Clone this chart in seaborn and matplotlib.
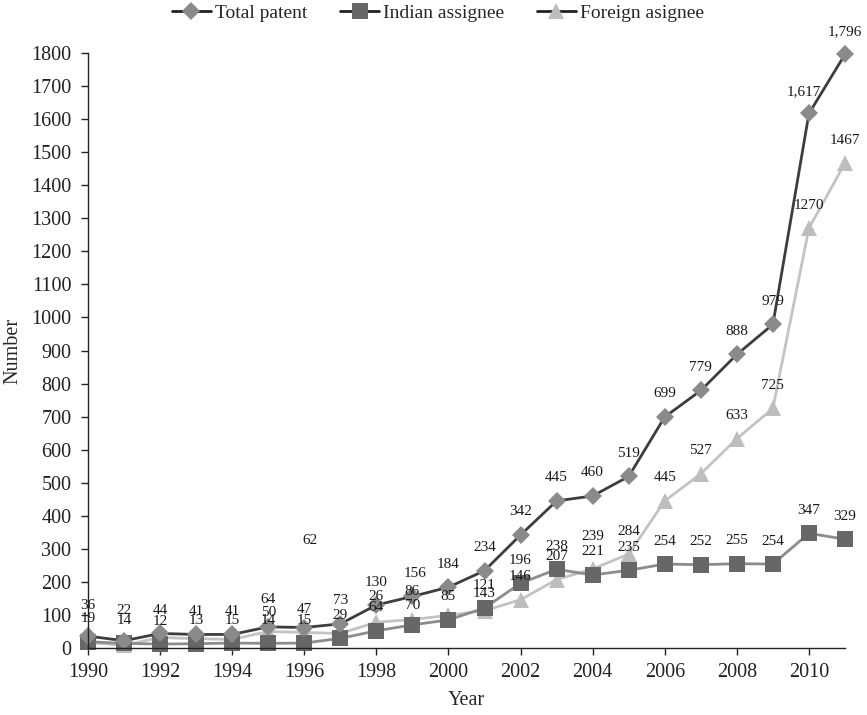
import matplotlib
matplotlib.use('Agg')
import matplotlib.pyplot as plt
from matplotlib.lines import Line2D
import pandas as pd
import seaborn as sns

years = list(range(1990, 2012))
total_patent = [36, 22, 44, 41, 41, 64, 62, 73, 130, 156, 184, 234, 342, 445, 460,
                519, 699, 779, 888, 979, 1617, 1796]
indian_assignee = [19, 14, 12, 13, 15, 14, 15, 29, 52, 70, 85, 121, 196, 238, 221,
                   235, 254, 252, 255, 254, 347, 329]
foreign_assignee = [17, 8, 32, 28, 26, 50, 47, 44, 78, 86, 99, 113, 146, 207, 239,
                    284, 445, 527, 633, 725, 1270, 1467]

# data labels as printed in the chart (some are missing / odd in the original)
total_labels = ['36', '22', '44', '41', '41', '64', '62', '73', '130', '156', '184',
                '234', '342', '445', '460', '519', '699', '779', '888', '979',
                '1,617', '1,796']
indian_labels = ['19', '14', '12', '13', '15', '14', '15', '29', '64', '70', '85',
                 '121', '196', '238', '221', '235', '254', '252', '255', '254',
                 '347', '329']
foreign_labels = ['', '', '', '', '', '50', '47', '', '26', '86', '', '143', '146',
                  '207', '239', '284', '445', '527', '633', '725', '1270', '1467']

df = pd.DataFrame({'Year': years, 'Total': total_patent,
                   'Indian': indian_assignee, 'Foreign': foreign_assignee})

sns.set_theme(style='ticks')
plt.rcParams['font.family'] = ['Liberation Serif', 'DejaVu Serif']
plt.rcParams['axes.edgecolor'] = '#222222'
plt.rcParams['axes.linewidth'] = 1.0

fig = plt.figure(figsize=(8.67, 7.15), dpi=100)
ax = fig.add_axes([88 / 867, 67 / 715, 757 / 867, 595 / 715])

sns.lineplot(data=df, x='Year', y='Foreign', ax=ax, color='#c3c3c3', linewidth=2,
             marker='^', markersize=12, markerfacecolor='#bdbdbd',
             markeredgewidth=0, clip_on=False)
sns.lineplot(data=df, x='Year', y='Indian', ax=ax, color='#8c8c8c', linewidth=2,
             marker='s', markersize=12, markerfacecolor='#676767',
             markeredgewidth=0, clip_on=False)
sns.lineplot(data=df, x='Year', y='Total', ax=ax, color='#3d3d3d', linewidth=2,
             marker='D', markersize=9, markerfacecolor='#8a8a8a',
             markeredgewidth=0, clip_on=False)

# label offsets in pixels (default straight up)
total_off = {1990: (0, 31), 1991: (0, 30), 1995: (0, 27), 1996: (6, 87),
             1999: (3, 23), 2010: (-5, 22)}
indian_off = {1999: (0, 19)}
foreign_off = {1995: (0, 19), 1998: (0, 26), 1999: (0, 28), 2001: (0, 17),
               2004: (0, 32)}

for vals, labels, offs in [(total_patent, total_labels, total_off),
                           (indian_assignee, indian_labels, indian_off),
                           (foreign_assignee, foreign_labels, foreign_off)]:
    for yr, v, lab in zip(years, vals, labels):
        if not lab:
            continue
        dx, dy = offs.get(yr, (0, 23))
        ax.annotate(lab, (yr, v), xytext=(dx, dy), textcoords='offset pixels',
                    ha='center', va='center', fontsize=11, color='#1a1a1a',
                    annotation_clip=False)

ax.set_xlim(1990, 2011)
ax.set_ylim(0, 1800)
ax.set_xticks(range(1990, 2011, 2))
ax.set_yticks(range(0, 1801, 100))
ax.tick_params(axis='both', labelsize=14.5, colors='#222222', length=5, width=1)
ax.tick_params(axis='y', pad=7)
ax.tick_params(axis='x', pad=6)
ax.set_xlabel('Year', fontsize=14.5, labelpad=6)
ax.set_ylabel('Number', fontsize=14.5, labelpad=6)
sns.despine(ax=ax)

handles = [
    Line2D([], [], color='#222222', linewidth=2, marker='D', markersize=9,
           markerfacecolor='#8a8a8a', markeredgewidth=0),
    Line2D([], [], color='#222222', linewidth=2, marker='s', markersize=12,
           markerfacecolor='#676767', markeredgewidth=0),
    Line2D([], [], color='#222222', linewidth=2, marker='^', markersize=12,
           markerfacecolor='#bdbdbd', markeredgewidth=0),
]
fig.legend(handles, ['Total patent', 'Indian assignee', 'Foreign asignee'],
           loc='upper center', bbox_to_anchor=(0.505, 1.005), ncol=3, frameon=False,
           fontsize=14, handlelength=2.0, handletextpad=0.2, columnspacing=1.7,
           borderaxespad=0.0)

fig.savefig('out.png', dpi=100)
